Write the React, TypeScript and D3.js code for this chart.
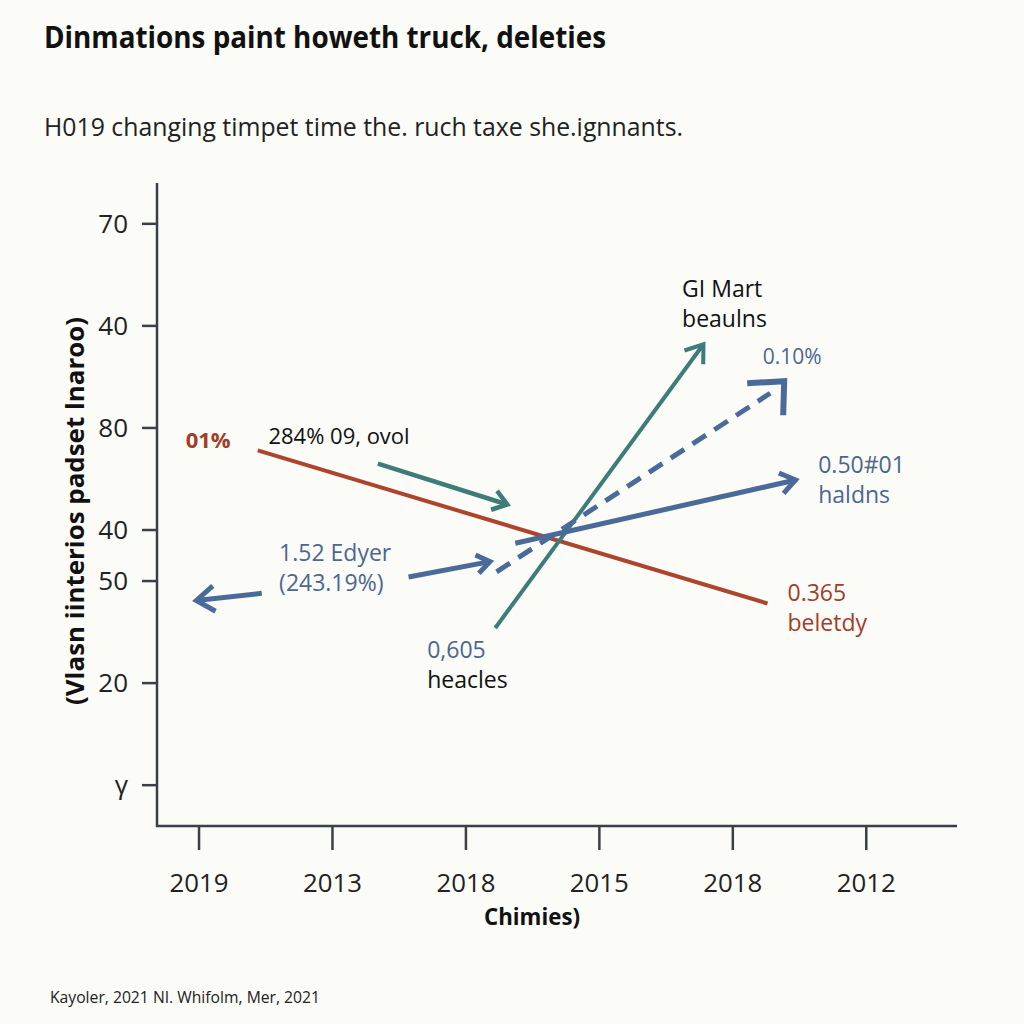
import React from "react";
import * as d3 from "d3";

const title = "Dinmations paint howeth truck, deleties";
const subtitle = "H019 changing timpet time the. ruch taxe she.ignnants.";
const source = "Kayoler, 2021 NI. Whifolm, Mer, 2021";
const xAxisTitle = "Chimies)";
const yAxisTitle = "(Vlasn iinterios padset lnaroo)";

const xTickLabels = ["2019", "2013", "2018", "2015", "2018", "2012"];
const yTickValues = [6.5, 5.5, 4.5, 3.5, 3, 2, 1];
const yTickLabels = ["70", "40", "80", "40", "50", "20", "γ"];

// each segment: start [x, y], end [x, y] in data units
const redLine = [[0.44, 4.28], [4.26, 2.78]];
const tealRise = [[2.22, 2.54], [3.78, 5.32]];
const tealPointer = [[1.34, 4.15], [2.31, 3.75]];
const blueDashed = [[2.23, 3.09], [4.28, 4.84]];
const blueSolid = [[2.37, 3.37], [4.47, 3.99]];
const blueLeft = [[0.47, 2.88], [-0.02, 2.81]];
const bluePointer = [[1.57, 3.04], [2.18, 3.19]];

// annotation labels: anchor [x, y] in data units
const annoRedPct = { text: "01%", at: [-0.1, 4.3] };
const annoBlack1 = { text: "284% 09, ovol", at: [0.52, 4.34] };
const annoEdyer = { lines: ["1.52 Edyer", "(243.19%)"], at: [0.6, 3.2] };
const annoHeacles = { lines: ["0,605", "heacles"], at: [1.71, 2.25] };
const annoMart = { lines: ["GI Mart", "beaulns"], at: [3.62, 5.78] };
const annoPct = { text: "0.10%", at: [4.225, 5.13] };
const annoHaldns = { lines: ["0.50#01", "haldns"], at: [4.64, 4.06] };
const annoBeletdy = { lines: ["0.365", "beletdy"], at: [4.41, 2.8] };

const RED = "#ad452d";
const RED_TEXT = "#a33d27";
const TEAL = "#3e7c79";
const BLUE = "#4a6a9a";
const BLUE_TEXT = "#4d6690";
const AXIS = "#3a3f48";
const FONT = "'Open Sans', 'Noto Sans', sans-serif";

const X0 = 157, X1 = 957, Y0 = 826, Y1 = 183;
const x = d3.scaleLinear().domain([-0.315, 5.68]).range([X0, X1]);
const y = d3.scaleLinear().domain([0.6, 6.9]).range([Y0, Y1]);

function seg(s: number[][]) {
  return { x1: x(s[0][0]), y1: y(s[0][1]), x2: x(s[1][0]), y2: y(s[1][1]) };
}

function chevron(s: number[][], len = 18, ang = 0.62) {
  const p = seg(s);
  const a = Math.atan2(p.y2 - p.y1, p.x2 - p.x1);
  const ax = p.x2 - len * Math.cos(a - ang);
  const ay = p.y2 - len * Math.sin(a - ang);
  const bx = p.x2 - len * Math.cos(a + ang);
  const by = p.y2 - len * Math.sin(a + ang);
  return `M${ax},${ay}L${p.x2},${p.y2}L${bx},${by}`;
}

function Arrow({ s, color, w, len, dash, head = true }: any) {
  const p = seg(s);
  const line = d3.line()([[p.x1, p.y1], [p.x2, p.y2]]) as string;
  return (
    <g>
      <path d={line} stroke={color} strokeWidth={w} fill="none" strokeDasharray={dash} />
      {head && (
        <path d={chevron(s, len)} stroke={color} strokeWidth={w} fill="none" strokeLinejoin="miter" />
      )}
    </g>
  );
}

function TwoLine({ a, c1, c2, size = 23 }: any) {
  return (
    <g fontFamily={FONT} fontSize={size}>
      <text x={x(a.at[0])} y={y(a.at[1])} fill={c1}>{a.lines[0]}</text>
      <text x={x(a.at[0])} y={y(a.at[1]) + 30} fill={c2}>{a.lines[1]}</text>
    </g>
  );
}

export default function App() {
  const dashEnd = seg(blueDashed);
  const tipX = dashEnd.x2 + 14, tipY = dashEnd.y2 - 12;
  const bracket = d3.line()([[tipX - 37, tipY + 2], [tipX, tipY], [tipX - 1, tipY + 34]]) as string;
  const xTickPos = xTickLabels.map((_, i) => i);

  return (
    <svg width={1024} height={1024} style={{ position: "absolute", left: 0, top: 0 }}>
      <rect width={1024} height={1024} fill="#fbfbf7" />
      <text x={44} y={48} fontFamily={FONT} fontWeight={700} fontSize={31} fill="#111"
        textLength={562} lengthAdjust="spacingAndGlyphs">{title}</text>
      <text x={44} y={136} fontFamily={FONT} fontSize={26} fill="#222"
        textLength={639} lengthAdjust="spacingAndGlyphs">{subtitle}</text>

      {/* axes */}
      <line x1={X0} y1={Y1} x2={X0} y2={Y0 + 1} stroke={AXIS} strokeWidth={2.5} />
      <line x1={X0 - 1} y1={Y0} x2={X1} y2={Y0} stroke={AXIS} strokeWidth={2.5} />
      {yTickValues.map((v, i) => (
        <g key={"y" + i}>
          <line x1={X0 - 15} x2={X0} y1={y(v)} y2={y(v)} stroke={AXIS} strokeWidth={2.5} />
          <text x={128} y={y(v) + 9} textAnchor="end" fontFamily={FONT} fontSize={26} fill="#222">
            {yTickLabels[i]}
          </text>
        </g>
      ))}
      {xTickPos.map((v, i) => (
        <g key={"x" + i}>
          <line x1={x(v)} x2={x(v)} y1={Y0} y2={Y0 + 24} stroke={AXIS} strokeWidth={2.5} />
          <text x={x(v)} y={892} textAnchor="middle" fontFamily={FONT} fontSize={26} fill="#222"
            textLength={59} lengthAdjust="spacingAndGlyphs">{xTickLabels[i]}</text>
        </g>
      ))}
      <text x={532} y={925} textAnchor="middle" fontFamily={FONT} fontWeight={700} fontSize={23} fill="#111"
        textLength={96} lengthAdjust="spacingAndGlyphs">{xAxisTitle}</text>
      <text transform="translate(84,511) rotate(-90)" textAnchor="middle" fontFamily={FONT} fontWeight={700}
        fontSize={25} fill="#111" textLength={388} lengthAdjust="spacingAndGlyphs">{yAxisTitle}</text>

      {/* marks */}
      <Arrow s={redLine} color={RED} w={4} head={false} />
      <Arrow s={tealRise} color={TEAL} w={4} len={20} />
      <Arrow s={tealPointer} color={TEAL} w={4.5} len={17} />
      <Arrow s={blueDashed} color={BLUE} w={5} dash="16,10" head={false} />
      <path d={bracket} stroke={BLUE} strokeWidth={6} fill="none" />
      <Arrow s={blueSolid} color={BLUE} w={5} len={18} />
      <Arrow s={blueLeft} color={BLUE} w={5} len={22} />
      <Arrow s={bluePointer} color={BLUE} w={5} len={16} />

      {/* annotations */}
      <text x={x(annoRedPct.at[0])} y={y(annoRedPct.at[1])} fontFamily={FONT} fontWeight={700} fontSize={22}
        fill={RED_TEXT}>{annoRedPct.text}</text>
      <text x={x(annoBlack1.at[0])} y={y(annoBlack1.at[1])} fontFamily={FONT} fontSize={22}
        fill="#111">{annoBlack1.text}</text>
      <TwoLine a={annoEdyer} c1={BLUE_TEXT} c2={BLUE_TEXT} />
      <TwoLine a={annoHeacles} c1={BLUE_TEXT} c2="#111" />
      <TwoLine a={annoMart} c1="#111" c2="#111" />
      <text x={x(annoPct.at[0])} y={y(annoPct.at[1])} fontFamily={FONT} fontSize={21}
        fill={BLUE_TEXT}>{annoPct.text}</text>
      <TwoLine a={annoHaldns} c1={BLUE_TEXT} c2={BLUE_TEXT} />
      <TwoLine a={annoBeletdy} c1={RED_TEXT} c2={RED_TEXT} />

      <text x={50} y={1003} fontFamily={FONT} fontSize={16} fill="#222"
        textLength={270} lengthAdjust="spacingAndGlyphs">{source}</text>
    </svg>
  );
}
